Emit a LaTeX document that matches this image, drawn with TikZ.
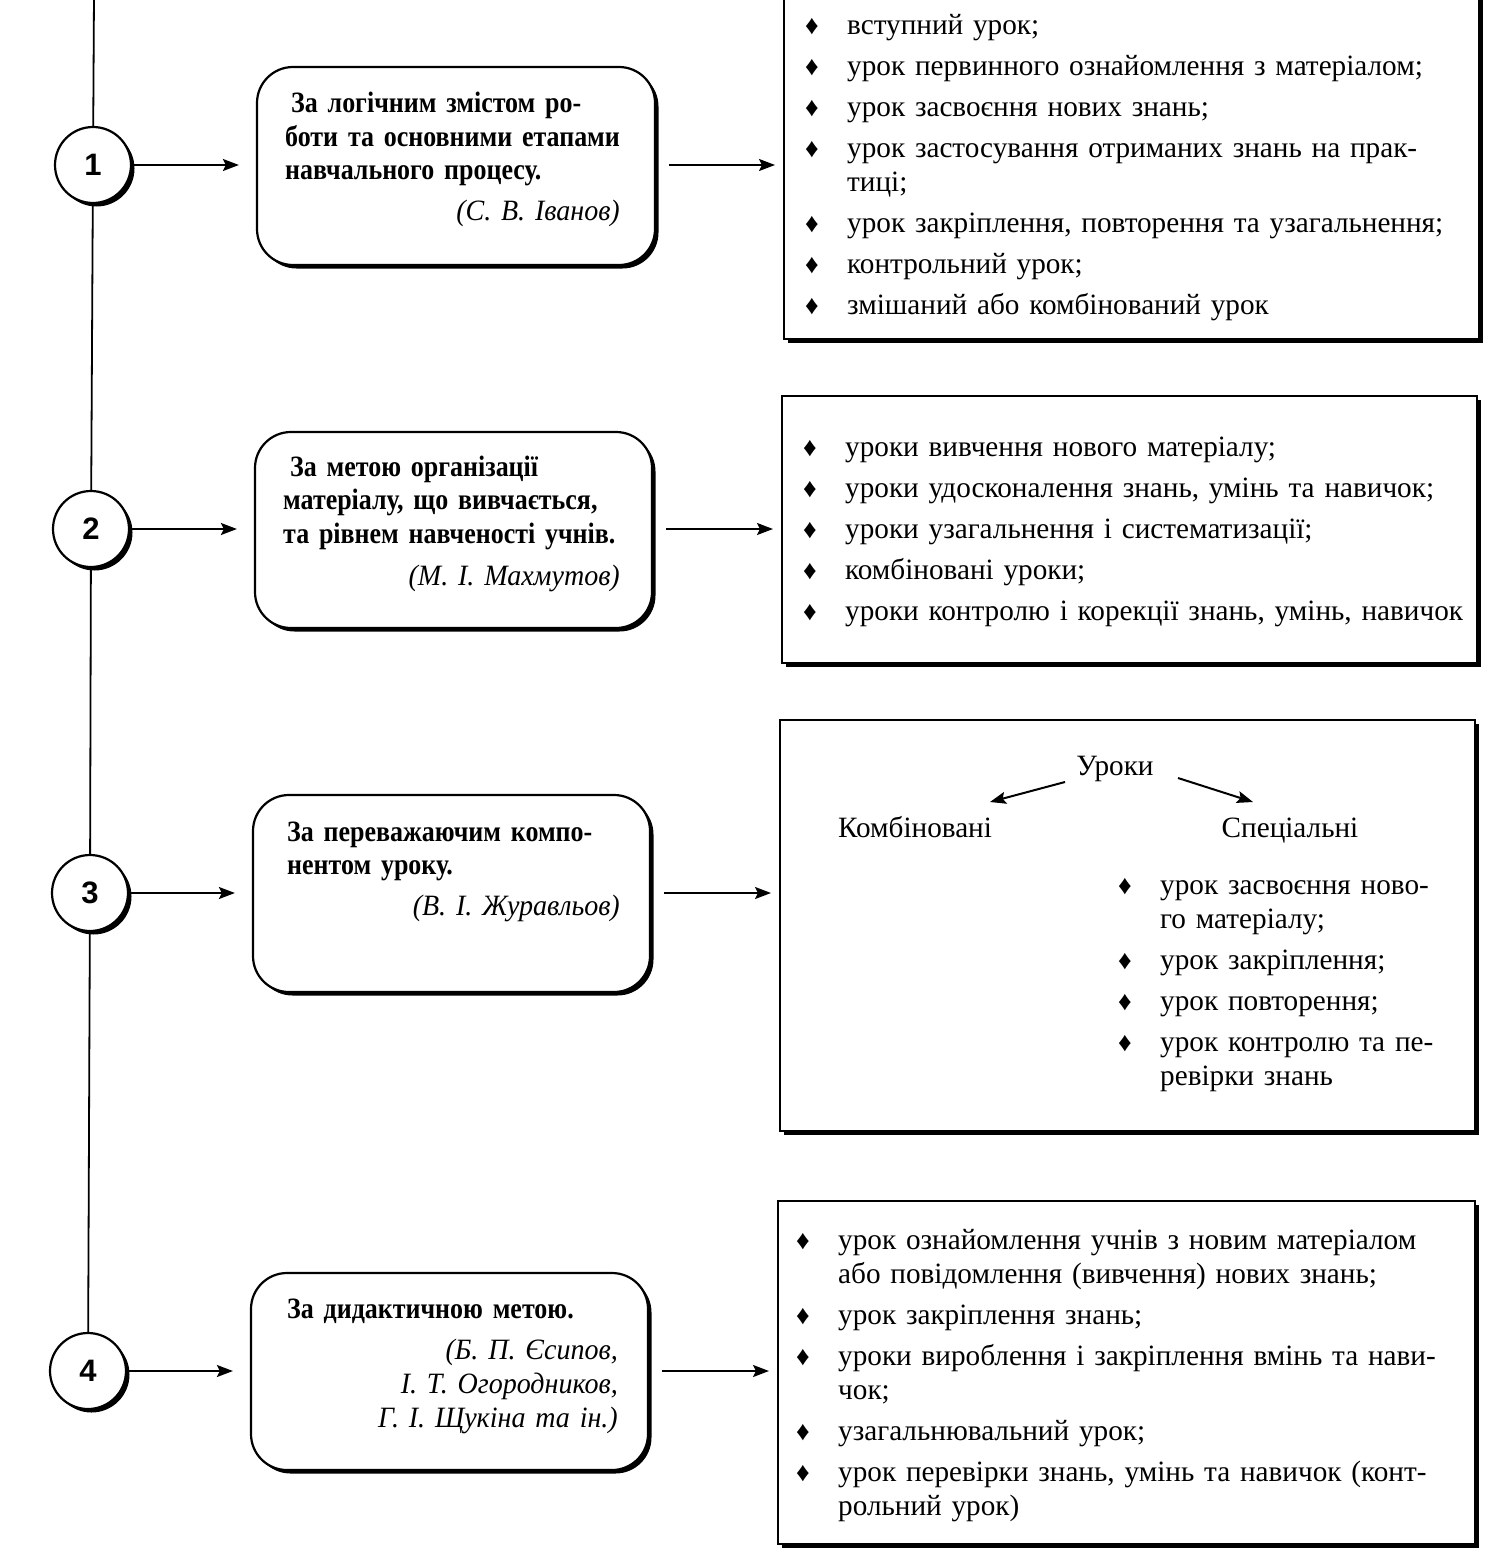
\documentclass[tikz,border=0pt]{standalone}
\usepackage{fontspec}
\setmainfont{Liberation Serif}[UprightFeatures={FakeStretch=0.99},BoldFeatures={FakeStretch=0.88},ItalicFeatures={FakeStretch=0.95}]
\newfontfamily\numfont{Liberation Sans}
\usetikzlibrary{arrows.meta,shadows}
\newcommand{\dmd}{\raisebox{0pt}{\fontsize{27}{27}\selectfont ♦}}
\newcommand{\bit}[1]{\noindent\hangindent=41pt\hangafter=1\makebox[41pt][l]{\hspace*{-1pt}\dmd}#1\par}
\tikzset{
  ln/.style={line width=1.8pt},
  arr/.style={line width=2pt,-{Stealth[length=16pt,width=12pt,inset=3pt]}},
  shad/.style={drop shadow={shadow xshift=3.5pt,shadow yshift=-3.5pt,fill=black,opacity=1}},
  circ/.style={circle,draw,line width=2.2pt,fill=white,minimum size=76pt,inner sep=0pt,shad,font=\numfont\bfseries\fontsize{31}{31}\selectfont},
  rbox/.style={rectangle,rounded corners=36pt,draw,line width=2.2pt,fill=white,inner sep=0pt,shad},
  rect/.style={rectangle,draw,line width=2pt,fill=white,inner sep=0pt,anchor=north west,shad},
  btxt/.style={anchor=base west,inner sep=0pt,text width=350pt,align=left,font=\bfseries\fontsize{29.5}{33.5}\selectfont},
  itxt/.style={anchor=base east,inner sep=0pt,text width=330pt,align=right,font=\itshape\fontsize{29.5}{34}\selectfont},
  lst/.style={anchor=base west,inner sep=0pt,align=left,font=\fontsize{29.5}{34}\selectfont,execute at begin node={\setlength{\parskip}{7pt}}},
  plain/.style={anchor=base,inner sep=0pt,font=\fontsize{29.5}{34}\selectfont}
}
\begin{document}
\begin{tikzpicture}[x=1pt,y=-1pt]
\useasboundingbox (0,0) rectangle (1499,1557);
\clip (0,0) rectangle (1499,1557);
% circles
\node[circ] (c1) at (93,165) {1};
\node[circ] (c2) at (91,529) {2};
\node[circ] (c3) at (90,893) {3};
\node[circ] (c4) at (88,1371) {4};
\coordinate (top) at (94,-5);
\draw[ln] (top) -- (c1);
\draw[ln] (c1) -- (c2);
\draw[ln] (c2) -- (c3);
\draw[ln] (c3) -- (c4);
% rounded boxes
\node[rbox,minimum width=398pt,minimum height=198pt] (b1) at (456,166) {};
\node[rbox,minimum width=397pt,minimum height=196pt] (b2) at (453.5,530) {};
\node[rbox,minimum width=397pt,minimum height=197pt] (b3) at (451.5,893.5) {};
\node[rbox,minimum width=397pt,minimum height=197pt] (b4) at (449.5,1371.5) {};
% rectangles
\node[rect,minimum width=695pt,minimum height=358pt] (r1) at (783,-20) {};
\node[rect,minimum width=695pt,minimum height=267pt] (r2) at (781,395) {};
\node[rect,minimum width=695pt,minimum height=411pt] (r3) at (779,719) {};
\node[rect,minimum width=697pt,minimum height=343pt] (r4) at (777,1200) {};
% arrows
\draw[arr,shorten >=17pt] (c1) -- (c1 -| b1.west);
\draw[arr,shorten >=17pt] (c2) -- (c2 -| b2.west);
\draw[arr,shorten >=17pt] (c3) -- (c3 -| b3.west);
\draw[arr,shorten >=17pt] (c4) -- (c4 -| b4.west);
\draw[arr,shorten <=13pt,shorten >=8pt] (b1.east |- c1) -- (c1 -| r1.west);
\draw[arr,shorten <=13pt,shorten >=8pt] (b2.east |- c2) -- (c2 -| r2.west);
\draw[arr,shorten <=13pt,shorten >=8pt] (b3.east |- c3) -- (c3 -| r3.west);
\draw[arr,shorten <=13pt,shorten >=8pt] (b4.east |- c4) -- (c4 -| r4.west);
% box texts
\node[btxt] (t1) at (285,113) {\hspace*{6pt}За логічним змістом ро-\\боти та основними етапами\\навчального процесу.};
\node[itxt] (a1) at (620,220) {(С. В. Іванов)};
\node[btxt] (t2) at (283,476) {\hspace*{7pt}За метою організації\\матеріалу, що вивчається,\\та рівнем навченості учнів.};
\node[itxt] (a2) at (620,585) {(М. І. Махмутов)};
\node[btxt] (t3) at (287,841) {За переважаючим компо-\\нентом уроку.};
\node[itxt] (a3) at (620,915) {(В. І. Журавльов)};
\node[btxt] (t4) at (287,1318) {За дидактичною метою.};
\node[itxt] (a4) at (618,1359) {(Б. П. Єсипов,\\І. Т. Огородников,\\Г. І. Щукіна та ін.)};
% lists
\node[lst,text width=680pt] (l1) at (806,35) {%
\bit{вступний урок;}
\bit{урок первинного ознайомлення з матеріалом;}
\bit{урок засвоєння нових знань;}
\bit{урок застосування отриманих знань на прак-\newline тиці;}
\bit{урок закріплення, повторення та узагальнення;}
\bit{контрольний урок;}
\bit{змішаний або комбінований урок}};
\node[lst,text width=680pt] (l2) at (804,456) {%
\bit{уроки вивчення нового матеріалу;}
\bit{уроки удосконалення знань, умінь та навичок;}
\bit{уроки узагальнення і систематизації;}
\bit{комбіновані уроки;}
\bit{уроки контролю і корекції знань, умінь, навичок}};
\node[plain] (u) at (1115,775) {Уроки};
\node[plain] (k) at (915,837) {Комбіновані};
\node[plain] (s) at (1290,837) {Спеціальні};
\coordinate (u1) at (1065,782);
\coordinate (k1) at (990,802);
\coordinate (u2) at (1178,778);
\coordinate (s1) at (1253,802);
\draw[arr] (u1) -- (k1);
\draw[arr] (u2) -- (s1);
\node[lst,text width=340pt] (l3) at (1119,894) {%
\bit{урок засвоєння ново-\newline го матеріалу;}
\bit{урок закріплення;}
\bit{урок повторення;}
\bit{урок контролю та пе-\newline ревірки знань}};
\node[lst,text width=680pt] (l4) at (797,1249) {%
\bit{урок ознайомлення учнів з новим матеріалом\newline або повідомлення (вивчення) нових знань;}
\bit{урок закріплення знань;}
\bit{уроки вироблення і закріплення вмінь та нави-\newline чок;}
\bit{узагальнювальний урок;}
\bit{урок перевірки знань, умінь та навичок (конт-\newline рольний урок)}};
\end{tikzpicture}
\end{document}
